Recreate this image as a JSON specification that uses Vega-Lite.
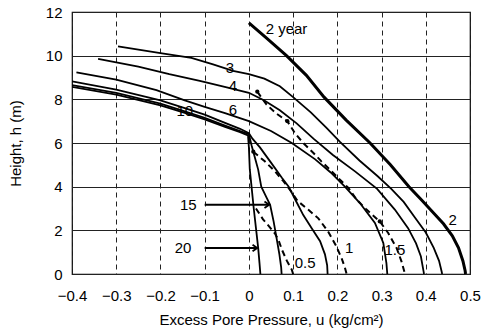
{
  "$schema": "https://vega.github.io/schema/vega-lite/v6.json",
  "width": 398,
  "height": 262,
  "autosize": "none",
  "padding": {"left": 72, "top": 12, "right": 18, "bottom": 61},
  "background": "white",
  "config": {
    "font": "Liberation Sans",
    "view": {"stroke": "black", "strokeWidth": 1.2},
    "axis": {"labelFont": "Liberation Sans", "titleFont": "Liberation Sans", "labelColor": "black", "titleColor": "black", "titleFontWeight": "normal", "domainColor": "black", "ticks": false, "labelFlush": false}
  },
  "datasets": {
    "curves": [
      {"s":"2","i":0,"x":0,"y":11.5},{"s":"2","i":1,"x":0.04,"y":10.8},{"s":"2","i":2,"x":0.085,"y":10.0},{"s":"2","i":3,"x":0.13,"y":9.1},{"s":"2","i":4,"x":0.17,"y":8.1},{"s":"2","i":5,"x":0.22,"y":7.05},{"s":"2","i":6,"x":0.274,"y":6.0},{"s":"2","i":7,"x":0.32,"y":5.0},{"s":"2","i":8,"x":0.362,"y":4.0},{"s":"2","i":9,"x":0.39,"y":3.4},{"s":"2","i":10,"x":0.415,"y":2.85},{"s":"2","i":11,"x":0.44,"y":2.3},{"s":"2","i":12,"x":0.46,"y":1.75},{"s":"2","i":13,"x":0.474,"y":1.2},{"s":"2","i":14,"x":0.484,"y":0.6},{"s":"2","i":15,"x":0.489,"y":0.15},{"s":"2","i":16,"x":0.49,"y":0},

      {"s":"3","i":0,"x":-0.296,"y":10.43},{"s":"3","i":1,"x":-0.2,"y":10.12},{"s":"3","i":2,"x":-0.13,"y":9.9},{"s":"3","i":3,"x":-0.081,"y":9.6},{"s":"3","i":4,"x":-0.036,"y":9.3},{"s":"3","i":5,"x":0,"y":9.15},{"s":"3","i":6,"x":0.035,"y":8.95},{"s":"3","i":7,"x":0.07,"y":8.6},{"s":"3","i":8,"x":0.1,"y":8.1},{"s":"3","i":9,"x":0.14,"y":7.4},{"s":"3","i":10,"x":0.175,"y":6.7},{"s":"3","i":11,"x":0.206,"y":6.05},{"s":"3","i":12,"x":0.25,"y":5.2},{"s":"3","i":13,"x":0.29,"y":4.5},{"s":"3","i":14,"x":0.322,"y":3.9},{"s":"3","i":15,"x":0.35,"y":3.3},{"s":"3","i":16,"x":0.375,"y":2.6},{"s":"3","i":17,"x":0.4,"y":1.9},{"s":"3","i":18,"x":0.418,"y":1.2},{"s":"3","i":19,"x":0.43,"y":0.6},{"s":"3","i":20,"x":0.436,"y":0.1},{"s":"3","i":21,"x":0.437,"y":0},

      {"s":"4","i":0,"x":-0.341,"y":9.85},{"s":"4","i":1,"x":-0.25,"y":9.5},{"s":"4","i":2,"x":-0.18,"y":9.15},{"s":"4","i":3,"x":-0.111,"y":8.85},{"s":"4","i":4,"x":-0.05,"y":8.55},{"s":"4","i":5,"x":0,"y":8.3},{"s":"4","i":6,"x":0.035,"y":7.95},{"s":"4","i":7,"x":0.07,"y":7.5},{"s":"4","i":8,"x":0.108,"y":6.9},{"s":"4","i":9,"x":0.146,"y":6.2},{"s":"4","i":10,"x":0.19,"y":5.45},{"s":"4","i":11,"x":0.24,"y":4.7},{"s":"4","i":12,"x":0.29,"y":3.9},{"s":"4","i":13,"x":0.33,"y":2.95},{"s":"4","i":14,"x":0.36,"y":2.1},{"s":"4","i":15,"x":0.378,"y":1.4},{"s":"4","i":16,"x":0.389,"y":0.8},{"s":"4","i":17,"x":0.395,"y":0.12},{"s":"4","i":18,"x":0.396,"y":0},

      {"s":"6","i":0,"x":-0.39,"y":9.24},{"s":"6","i":1,"x":-0.3,"y":8.9},{"s":"6","i":2,"x":-0.209,"y":8.42},{"s":"6","i":3,"x":-0.145,"y":7.95},{"s":"6","i":4,"x":-0.1,"y":7.65},{"s":"6","i":5,"x":-0.054,"y":7.37},{"s":"6","i":6,"x":0,"y":7.0},{"s":"6","i":7,"x":0.05,"y":6.55},{"s":"6","i":8,"x":0.097,"y":6.0},{"s":"6","i":9,"x":0.15,"y":5.25},{"s":"6","i":10,"x":0.185,"y":4.65},{"s":"6","i":11,"x":0.217,"y":4.0},{"s":"6","i":12,"x":0.251,"y":3.25},{"s":"6","i":13,"x":0.285,"y":2.34},{"s":"6","i":14,"x":0.304,"y":1.42},{"s":"6","i":15,"x":0.311,"y":0.5},{"s":"6","i":16,"x":0.313,"y":0},

      {"s":"10","i":0,"x":-0.4,"y":8.82},{"s":"10","i":1,"x":-0.3,"y":8.45},{"s":"10","i":2,"x":-0.2,"y":7.95},{"s":"10","i":3,"x":-0.145,"y":7.6},{"s":"10","i":4,"x":-0.1,"y":7.3},{"s":"10","i":5,"x":-0.054,"y":6.92},{"s":"10","i":6,"x":-0.02,"y":6.65},{"s":"10","i":7,"x":0,"y":6.45},{"s":"10","i":8,"x":0.008,"y":6.2},{"s":"10","i":9,"x":0.025,"y":5.8},{"s":"10","i":10,"x":0.05,"y":5.1},{"s":"10","i":11,"x":0.075,"y":4.4},{"s":"10","i":12,"x":0.09,"y":4.0},{"s":"10","i":13,"x":0.105,"y":3.4},{"s":"10","i":14,"x":0.123,"y":2.7},{"s":"10","i":15,"x":0.142,"y":2.1},{"s":"10","i":16,"x":0.161,"y":1.5},{"s":"10","i":17,"x":0.172,"y":0.9},{"s":"10","i":18,"x":0.177,"y":0.4},{"s":"10","i":19,"x":0.178,"y":0},

      {"s":"15","i":0,"x":-0.4,"y":8.65},{"s":"15","i":1,"x":-0.3,"y":8.3},{"s":"15","i":2,"x":-0.2,"y":7.8},{"s":"15","i":3,"x":-0.145,"y":7.45},{"s":"15","i":4,"x":-0.1,"y":7.15},{"s":"15","i":5,"x":-0.054,"y":6.8},{"s":"15","i":6,"x":-0.02,"y":6.55},{"s":"15","i":7,"x":0,"y":6.4},{"s":"15","i":8,"x":0.006,"y":5.9},{"s":"15","i":9,"x":0.014,"y":5.3},{"s":"15","i":10,"x":0.021,"y":4.78},{"s":"15","i":11,"x":0.028,"y":4.0},{"s":"15","i":12,"x":0.04,"y":3.5},{"s":"15","i":13,"x":0.048,"y":3.17},{"s":"15","i":14,"x":0.056,"y":2.4},{"s":"15","i":15,"x":0.063,"y":1.6},{"s":"15","i":16,"x":0.069,"y":0.9},{"s":"15","i":17,"x":0.073,"y":0.3},{"s":"15","i":18,"x":0.074,"y":0},

      {"s":"20","i":0,"x":-0.4,"y":8.57},{"s":"20","i":1,"x":-0.3,"y":8.22},{"s":"20","i":2,"x":-0.2,"y":7.72},{"s":"20","i":3,"x":-0.145,"y":7.38},{"s":"20","i":4,"x":-0.1,"y":7.08},{"s":"20","i":5,"x":-0.054,"y":6.74},{"s":"20","i":6,"x":-0.02,"y":6.5},{"s":"20","i":7,"x":-0.002,"y":6.35},{"s":"20","i":8,"x":0,"y":5.8},{"s":"20","i":9,"x":0.002,"y":4.8},{"s":"20","i":10,"x":0.006,"y":4.0},{"s":"20","i":11,"x":0.011,"y":3.0},{"s":"20","i":12,"x":0.016,"y":2.1},{"s":"20","i":13,"x":0.021,"y":1.2},{"s":"20","i":14,"x":0.024,"y":0.5},{"s":"20","i":15,"x":0.026,"y":0},

      {"s":"0.5","i":0,"x":0.016,"y":3.0},{"s":"0.5","i":1,"x":0.032,"y":2.5},{"s":"0.5","i":2,"x":0.047,"y":2.15},{"s":"0.5","i":3,"x":0.059,"y":1.85},{"s":"0.5","i":4,"x":0.067,"y":1.55},{"s":"0.5","i":5,"x":0.075,"y":1.1},{"s":"0.5","i":6,"x":0.086,"y":0.6},{"s":"0.5","i":7,"x":0.097,"y":0.2},{"s":"0.5","i":8,"x":0.1,"y":0},

      {"s":"1","i":0,"x":0.01,"y":5.6},{"s":"1","i":1,"x":0.036,"y":5.16},{"s":"1","i":2,"x":0.059,"y":4.7},{"s":"1","i":3,"x":0.078,"y":4.25},{"s":"1","i":4,"x":0.095,"y":3.8},{"s":"1","i":5,"x":0.11,"y":3.35},{"s":"1","i":6,"x":0.134,"y":2.95},{"s":"1","i":7,"x":0.157,"y":2.55},{"s":"1","i":8,"x":0.179,"y":1.95},{"s":"1","i":9,"x":0.198,"y":1.26},{"s":"1","i":10,"x":0.21,"y":0.7},{"s":"1","i":11,"x":0.217,"y":0.3},{"s":"1","i":12,"x":0.221,"y":0},

      {"s":"1.5","i":0,"x":0.019,"y":8.35},{"s":"1.5","i":1,"x":0.04,"y":7.76},{"s":"1.5","i":2,"x":0.062,"y":7.35},{"s":"1.5","i":3,"x":0.087,"y":7.0},{"s":"1.5","i":4,"x":0.104,"y":6.45},{"s":"1.5","i":5,"x":0.123,"y":6.0},{"s":"1.5","i":6,"x":0.146,"y":5.54},{"s":"1.5","i":7,"x":0.164,"y":5.16},{"s":"1.5","i":8,"x":0.187,"y":4.7},{"s":"1.5","i":9,"x":0.206,"y":4.32},{"s":"1.5","i":10,"x":0.225,"y":3.94},{"s":"1.5","i":11,"x":0.244,"y":3.4},{"s":"1.5","i":12,"x":0.266,"y":2.95},{"s":"1.5","i":13,"x":0.296,"y":2.41},{"s":"1.5","i":14,"x":0.315,"y":1.88},{"s":"1.5","i":15,"x":0.334,"y":1.19},{"s":"1.5","i":16,"x":0.345,"y":0.58},{"s":"1.5","i":17,"x":0.353,"y":0}
    ],
    "labels": [
      {"t":"2 year","x":0.085,"y":11.2},
      {"t":"3","x":-0.043,"y":9.44},
      {"t":"4","x":-0.036,"y":8.63},
      {"t":"6","x":-0.036,"y":7.53},
      {"t":"10","x":-0.145,"y":7.45},
      {"t":"15","x":-0.137,"y":3.17},
      {"t":"20","x":-0.149,"y":1.19},
      {"t":"0.5","x":0.127,"y":0.5},
      {"t":"1","x":0.227,"y":1.19},
      {"t":"1.5","x":0.33,"y":1.11},
      {"t":"2","x":0.461,"y":2.49}
    ],
    "arrows": [
      {"x":-0.1,"x2":0.046,"y":3.17},
      {"x":-0.1,"x2":0.019,"y":1.19}
    ],
    "dots": [
      {"x":0.019,"y":8.35},{"x":0.087,"y":7.0},{"x":0.296,"y":2.41},{"x":0.01,"y":5.6}
    ]
  },
  "layer": [
    {
      "data": {"name": "curves"},
      "transform": [{"filter": "datum.s != '2' && datum.s != '0.5' && datum.s != '1' && datum.s != '1.5'"}],
      "mark": {"type": "line", "color": "black", "strokeWidth": 1.8, "clip": true},
      "encoding": {
        "x": {"field": "x", "type": "quantitative", "scale": {"domain": [-0.4, 0.5], "nice": false, "zero": false},
          "axis": {"values": [-0.4,-0.3,-0.2,-0.1,0,0.1,0.2,0.3,0.4,0.5], "labelExpr": "datum.value == 0 ? '0' : format(datum.value, '.1f')", "labelOverlap": false, "title": "Excess Pore Pressure, u (kg/cm²)", "labelFontSize": 15, "titleFontSize": 15, "labelPadding": 14, "titlePadding": 9,
            "grid": true, "gridColor": "#222", "gridDash": [5, 4], "gridWidth": 1, "domain": false}},
        "y": {"field": "y", "type": "quantitative", "scale": {"domain": [0, 12], "nice": false},
          "axis": {"values": [0,2,4,6,8,10,12], "title": "Height, h (m)", "labelFontSize": 15, "titleFontSize": 15, "labelPadding": 10, "titlePadding": 22,
            "grid": true, "gridColor": "#222", "gridWidth": 1, "domain": false}},
        "detail": {"field": "s"},
        "order": {"field": "i", "type": "quantitative"}
      }
    },
    {
      "data": {"name": "curves"},
      "transform": [{"filter": "datum.s == '2'"}],
      "mark": {"type": "line", "color": "black", "strokeWidth": 3},
      "encoding": {
        "x": {"field": "x", "type": "quantitative"},
        "y": {"field": "y", "type": "quantitative"},
        "order": {"field": "i", "type": "quantitative"}
      }
    },
    {
      "data": {"name": "curves"},
      "transform": [{"filter": "datum.s == '0.5' || datum.s == '1' || datum.s == '1.5'"}],
      "mark": {"type": "line", "color": "black", "strokeWidth": 2, "strokeDash": [6, 4]},
      "encoding": {
        "x": {"field": "x", "type": "quantitative"},
        "y": {"field": "y", "type": "quantitative"},
        "detail": {"field": "s"},
        "order": {"field": "i", "type": "quantitative"}
      }
    },
    {
      "data": {"name": "dots"},
      "mark": {"type": "point", "filled": true, "color": "black", "size": 18, "opacity": 1},
      "encoding": {
        "x": {"field": "x", "type": "quantitative"},
        "y": {"field": "y", "type": "quantitative"}
      }
    },
    {
      "data": {"name": "arrows"},
      "mark": {"type": "rule", "color": "black", "strokeWidth": 2},
      "encoding": {
        "x": {"field": "x", "type": "quantitative"},
        "x2": {"field": "x2"},
        "y": {"field": "y", "type": "quantitative"}
      }
    },
    {
      "data": {"name": "arrows"},
      "mark": {"type": "point", "shape": "M -1 -0.7 L 0 0 L -1 0.7", "filled": false, "color": "black", "strokeWidth": 1.8, "size": 90, "opacity": 1},
      "encoding": {
        "x": {"field": "x2", "type": "quantitative"},
        "y": {"field": "y", "type": "quantitative"}
      }
    },
    {
      "data": {"name": "labels"},
      "mark": {"type": "text", "fontSize": 15, "color": "black", "baseline": "middle", "align": "center"},
      "encoding": {
        "x": {"field": "x", "type": "quantitative"},
        "y": {"field": "y", "type": "quantitative"},
        "text": {"field": "t"}
      }
    }
  ]
}
